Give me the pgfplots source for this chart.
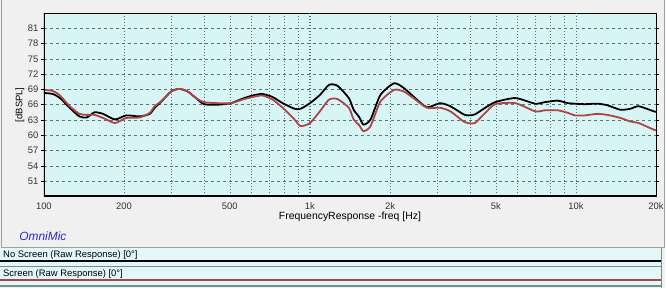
\documentclass[border=0pt]{standalone}
\usepackage{fontspec}
\setmainfont{Liberation Sans}
\usepackage{pgfplots}
\pgfplotsset{compat=1.18}
\definecolor{plotbg}{RGB}{216,245,245}
\definecolor{stripbg}{RGB}{226,248,248}
\definecolor{panelbg}{RGB}{240,240,240}
\definecolor{redc}{RGB}{172,70,70}
\definecolor{gridc}{RGB}{95,115,115}
\definecolor{sepc}{RGB}{120,140,140}
\definecolor{omni}{RGB}{40,40,200}
\begin{document}
\begin{tikzpicture}
\begin{scope}[x=1bp,y=1bp]
\useasboundingbox (0,0) rectangle (667,289);
\fill[panelbg] (0,0) rectangle (667,289);
\draw[gray!75, line width=1bp] (1.5,41) rectangle (666,289.5);
% legend strips
\fill[stripbg] (0,0) rectangle (663,40);
\draw[line width=1.6bp, black] (0,27) -- (663,27);
\draw[line width=1.4bp, sepc] (0,22) -- (663,22);
\draw[line width=1.6bp, redc] (0,8) -- (663,8);
\draw[line width=1.4bp, sepc] (0,2) -- (663,2);
\draw[line width=1bp, sepc] (663,0) -- (663,40);
\node[anchor=south west, inner sep=0pt, font=\fontsize{9.5}{11}\selectfont] at (3,29) {No Screen (Raw Response) [0°]};
\node[anchor=south west, inner sep=0pt, font=\fontsize{9.5}{11}\selectfont] at (3,10) {Screen (Raw Response) [0°]};
\node[font=\fontsize{12}{14}\selectfont\itshape, text=omni] at (43,52) {OmniMic};
\node[rotate=90, font=\fontsize{9.5}{11}\selectfont] at (20,184) {[dBSPL]};
\node[font=\fontsize{10.5}{12}\selectfont] at (351,72) {FrequencyResponse -freq [Hz]};
\end{scope}
\begin{axis}[
  at={(44bp,92bp)}, anchor=south west,
  scale only axis, width=614bp, height=184bp,
  xmode=log, xmin=100, xmax=20000, ymin=48, ymax=84,
  /pgf/number format/assume math mode=true,
  axis background/.style={fill=plotbg},
  axis line style={black, line width=0.7bp},
  xtick={100,200,500,1000,2000,5000,10000,20000},
  xticklabels={100,200,500,1k,2k,5k,10k,20k},
  minor xtick={300,400,600,700,800,900,3000,4000,6000,7000,8000,9000},
  xtick style={draw=none}, minor tick length=0pt,
  xmajorgrids, xminorgrids,
  major x grid style={dash pattern=on 1bp off 2bp, gridc},
  minor x grid style={dash pattern=on 1bp off 2bp, gridc},
  extra x ticks={1000,10000}, extra x tick labels={},
  extra x tick style={grid=major, major grid style={solid, black, line width=0.9bp}},
  ytick={51,54,...,81},
  ymajorgrids,
  major y grid style={dash pattern=on 3bp off 3bp, gridc},
  ytick style={black, line width=0.6bp}, tick align=outside, major tick length=3bp,
  tick label style={font=\fontsize{9.5}{11}\selectfont, text=black!80},
  yticklabel style={xshift=1bp},
  xticklabel style={yshift=0bp},
]
\addplot[black, line width=1.8bp, smooth, tension=0.4] coordinates {
(100,68.3) (108,68.1) (115,67.3) (125,65.4) (136,63.7) (145,63.5) (155,64.5)
(167,64.2) (185,63.1) (204,63.9) (229,63.7) (250,64.2) (261,65.4) (275,66.5)
(301,68.6) (323,69.1) (347,68.6) (373,67.3) (400,66.1) (450,66.0) (505,66.3)
(566,67.3) (620,67.9) (664,68.1) (724,67.5) (790,66.3) (875,65.2) (922,65.2)
(1000,66.3) (1090,67.9) (1180,69.9) (1270,69.7) (1400,67.3) (1460,65.0)
(1530,63.6) (1590,62.1) (1690,63.1) (1840,67.9) (2070,70.2) (2250,69.3)
(2450,67.6) (2750,65.5) (3080,66.3) (3370,65.7) (3780,64.1) (3950,63.9)
(4170,64.1) (4560,65.4) (4970,66.5) (5920,67.3) (7020,66.2) (7650,66.5)
(8530,66.8) (9320,66.3) (9900,66.2) (10800,66.1) (12000,66.2) (13100,65.9)
(14700,65.0) (16000,65.2) (17200,65.7) (19600,64.7) (20000,64.6)
};
\addplot[redc, line width=1.8bp, smooth, tension=0.4] coordinates {
(100,68.9) (108,68.7) (115,67.8) (125,65.7) (136,64.2) (145,64.0) (155,64.0)
(167,63.4) (185,62.4) (204,63.4) (229,63.5) (250,64.4) (261,65.7) (275,66.6)
(301,68.6) (323,69.1) (347,68.6) (373,67.3) (400,66.5) (450,66.3) (505,66.3)
(566,67.1) (620,67.6) (664,67.8) (724,67.0) (790,65.4) (875,63.1) (922,61.8)
(1000,62.4) (1090,64.7) (1180,67.0) (1270,67.1) (1400,65.4) (1460,63.1)
(1530,62.0) (1590,60.8) (1690,61.8) (1840,66.6) (2070,68.9) (2250,68.6)
(2450,67.3) (2750,65.4) (3080,65.4) (3370,64.7) (3780,62.7) (3950,62.4)
(4170,62.4) (4560,64.4) (4970,66.1) (5920,66.3) (7020,64.7) (7650,64.9)
(8530,64.9) (9320,64.4) (9900,63.9) (10800,63.9) (12000,64.2) (13100,64.0)
(14700,63.4) (16000,62.7) (17200,62.4) (19600,61.1) (20000,61.0)
};
\draw[black, line width=2bp] (rel axis cs:0,1) -- (rel axis cs:0,0) -- (rel axis cs:1,0);
\end{axis}
\end{tikzpicture}
\end{document}
